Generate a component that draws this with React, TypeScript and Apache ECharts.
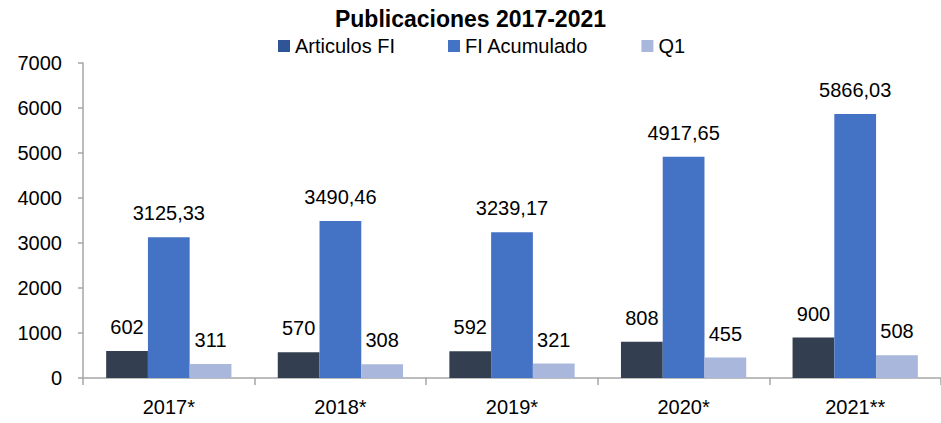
import React, { useEffect, useRef } from "react";
import * as echarts from "echarts";

const categories = ["2017*", "2018*", "2019*", "2020*", "2021**"];
const articulosFI = [602, 570, 592, 808, 900];
const fiAcumulado = [3125.33, 3490.46, 3239.17, 4917.65, 5866.03];
const q1 = [311, 308, 321, 455, 508];
const seriesNames = ["Articulos FI", "FI Acumulado", "Q1"];
const yTicks = { min: 0, max: 7000, interval: 1000 };

const FONT = "'Liberation Sans', Arial, sans-serif";

const fmt = (v: number) =>
  Number.isInteger(v) ? String(v) : v.toFixed(2).replace(".", ",");

export default function App() {
  const ref = useRef<HTMLDivElement>(null);
  useEffect(() => {
    if (!ref.current) return;
    const chart = echarts.init(ref.current, undefined, { renderer: "svg" });
    const label = {
      show: true,
      position: "top" as const,
      distance: 14,
      color: "#000",
      fontFamily: FONT,
      fontSize: 20,
      formatter: (p: any) => fmt(p.value),
    };
    chart.setOption({
      animation: false,
      backgroundColor: "#fff",
      title: {
        text: "Publicaciones 2017-2021",
        left: "center",
        top: 2,
        textStyle: { fontFamily: FONT, fontSize: 23, fontWeight: "bold", color: "#000" },
      },
      legend: {
        left: 273,
        top: 31,
        itemWidth: 12,
        itemHeight: 12,
        itemGap: 53,
        icon: "rect",
        textStyle: { fontFamily: FONT, fontSize: 20, color: "#000" },
        data: [
          { name: seriesNames[0], itemStyle: { color: "#2F5597" } },
          { name: seriesNames[1] },
          { name: seriesNames[2] },
        ],
      },
      grid: { left: 83, right: -5, top: 63, bottom: 45 },
      xAxis: {
        type: "category",
        data: categories,
        axisLine: { lineStyle: { color: "#A6A6A6", width: 1.5 } },
        axisTick: { show: true, length: 7, lineStyle: { color: "#A6A6A6", width: 1.5 } },
        axisLabel: { color: "#000", fontFamily: FONT, fontSize: 20, margin: 19 },
      },
      yAxis: {
        type: "value",
        min: yTicks.min,
        max: yTicks.max,
        interval: yTicks.interval,
        axisLine: { show: true, lineStyle: { color: "#A6A6A6", width: 1.5 } },
        axisTick: { show: true, length: 5, lineStyle: { color: "#A6A6A6", width: 1.5 } },
        splitLine: { show: false },
        axisLabel: {
          color: "#000",
          fontFamily: FONT,
          fontSize: 20,
          margin: 21,
          formatter: (v: number) => String(v),
        },
      },
      series: [
        {
          name: seriesNames[0],
          type: "bar",
          data: articulosFI,
          itemStyle: { color: "#333F50" },
          barGap: "0%",
          barCategoryGap: "27%",
          label,
        },
        {
          name: seriesNames[1],
          type: "bar",
          data: fiAcumulado,
          itemStyle: { color: "#4472C4" },
          barGap: "0%",
          barCategoryGap: "27%",
          label,
        },
        {
          name: seriesNames[2],
          type: "bar",
          data: q1,
          itemStyle: { color: "#A9B7DC" },
          barGap: "0%",
          barCategoryGap: "27%",
          label,
        },
      ],
    });
    return () => chart.dispose();
  }, []);
  return (
    <div
      ref={ref}
      style={{ position: "fixed", left: 0, top: 0, width: 941, height: 423 }}
    />
  );
}
